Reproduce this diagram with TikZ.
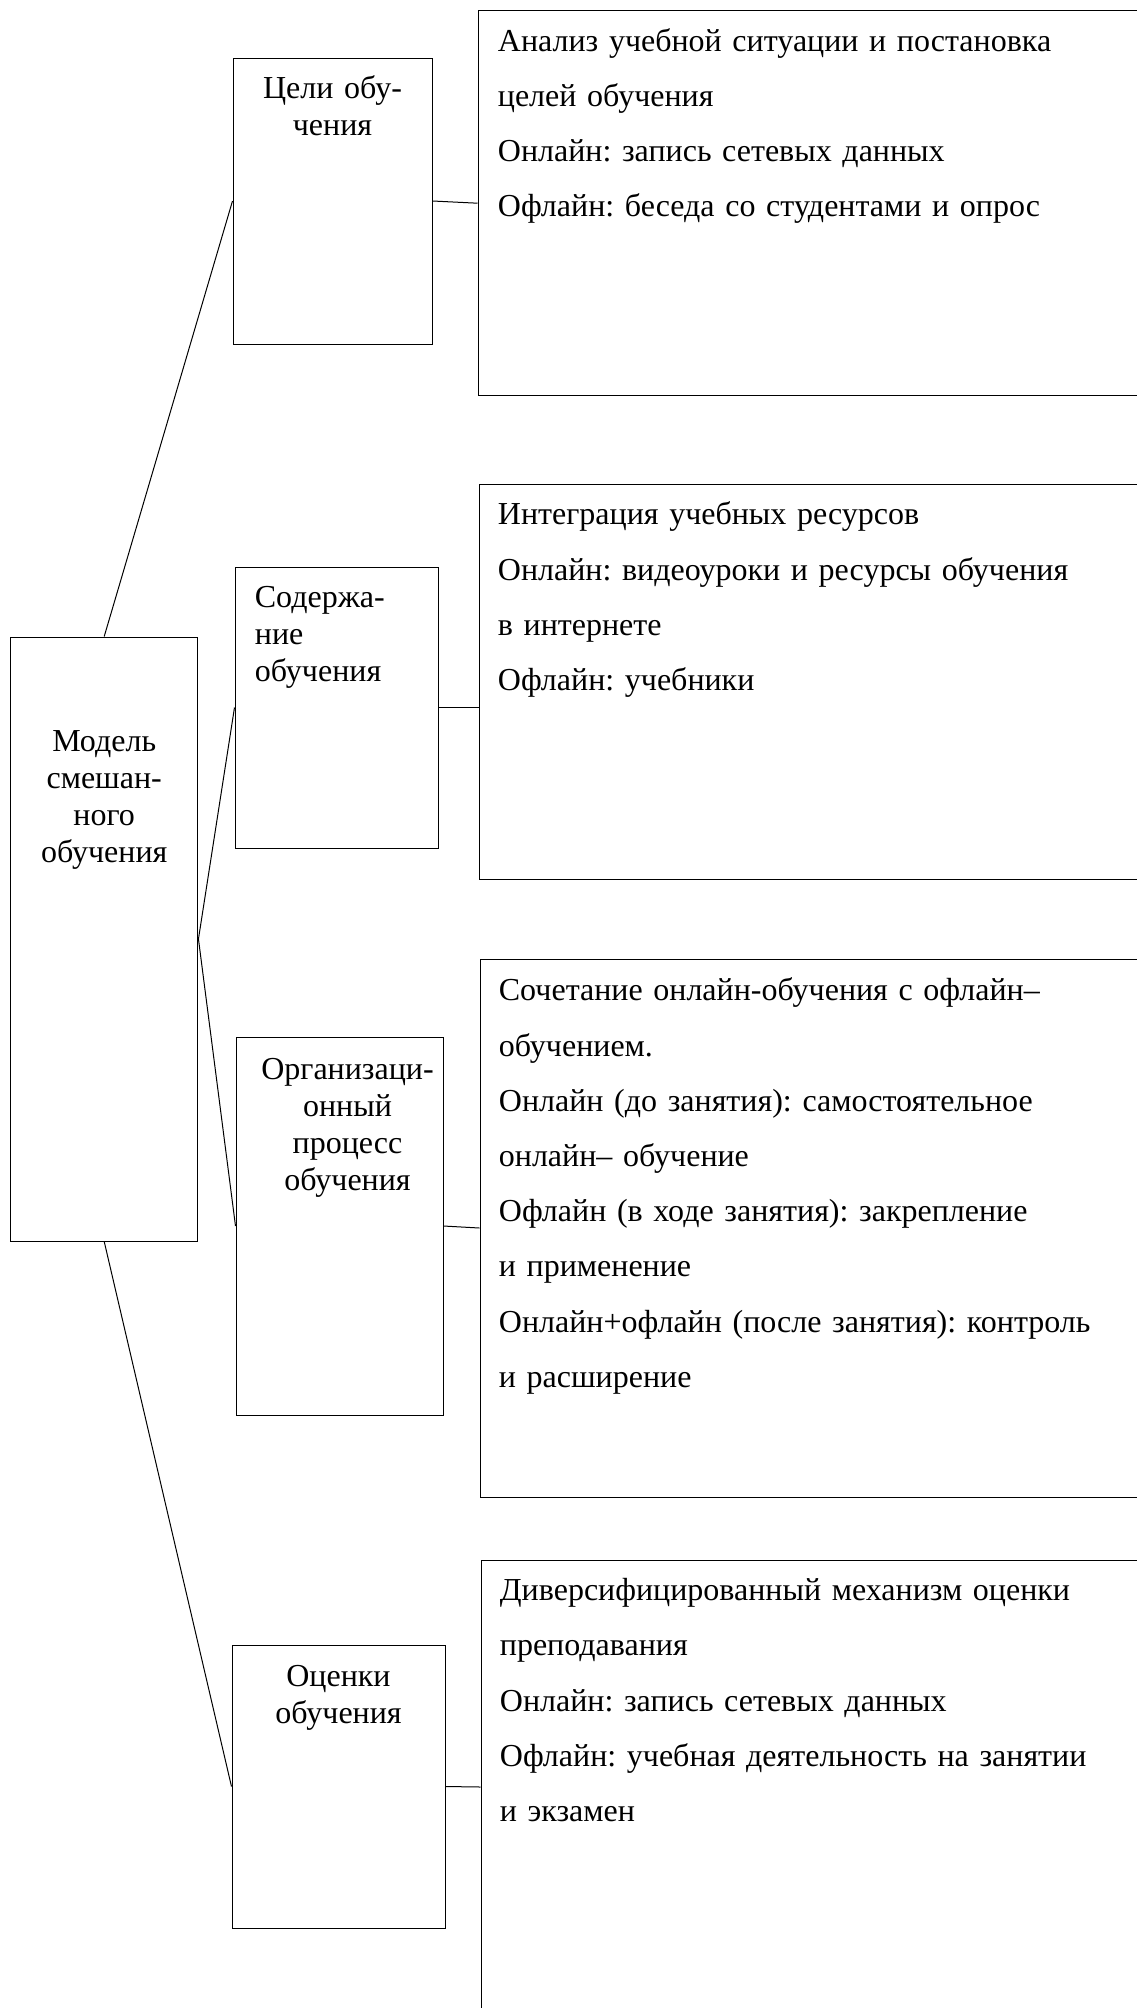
\documentclass[tikz,border=0pt]{standalone}
\usepackage{fontspec}
\setmainfont{Liberation Serif}
\frenchspacing
\tikzstyle{box} = [rectangle, draw=black, line width=0.5pt, inner sep=0pt]
\tikzstyle{head} = [inner sep=0pt, text width=95pt, align=center, anchor=base,
                    font=\fontsize{16pt}{18.5pt}\selectfont]
\tikzstyle{body} = [inner sep=0pt, text width=330pt, align=left, anchor=base west,
                    font=\fontsize{16pt}{27.6pt}\selectfont]
\tikzstyle{link} = [line width=0.5pt]

\begin{document}
\begin{tikzpicture}
  \useasboundingbox (0,0) rectangle (568pt,-1004pt);

  % model
  \node (m) [box, minimum width=93.75pt, minimum height=302pt] at (52.1pt,-469.5pt) {};
  \node (mtext) [head, text width=90pt] at ([yshift=-57.3pt]m.north)
    {Модель\\смешан-\\ного\\обучения};

  % components
  \node (g1) [box, minimum width=99.5pt, minimum height=143pt] at (166.25pt,-100.5pt) {};
  \node (g2) [box, minimum width=101.5pt, minimum height=140.5pt] at (168.25pt,-353.75pt) {};
  \node (g3) [box, minimum width=103.5pt, minimum height=189pt] at (169.75pt,-613pt) {};
  \node (g4) [box, minimum width=106.5pt, minimum height=141.5pt] at (169.25pt,-893.25pt) {};

  \node (g1text) [head] at ([yshift=-20.4pt]g1.north) {Цели обу-\\чения};
  \node (g2text) [head, align=left, anchor=base west] at ([shift={(10pt,-20.6pt)}]g2.north west)
    {Содержа-\\ние\\обучения};
  \node (g3text) [head] at ([shift={(4pt,-21.6pt)}]g3.north)
    {Организаци-\\онный\\процесс\\обучения};
  \node (g4text) [head] at ([yshift=-21pt]g4.north) {Оценки\\обучения};

  % details
  \node (t1) [box, minimum width=336pt, minimum height=192.75pt] at (407pt,-101.6pt) {};
  \node (t2) [box, minimum width=335.5pt, minimum height=197.5pt] at (407.25pt,-340.75pt) {};
  \node (t3) [box, minimum width=335pt, minimum height=269pt] at (407.5pt,-614pt) {};
  \node (t4) [box, minimum width=334.5pt, minimum height=227pt] at (407.75pt,-893.5pt) {};

  \node (t1text) [body] at ([shift={(10pt,-20.6pt)}]t1.north west)
    {Анализ учебной ситуации и постановка\\
     целей обучения\\
     Онлайн: запись сетевых данных\\
     Офлайн: беседа со студентами и опрос};
  \node (t2text) [body] at ([shift={(9.5pt,-20.7pt)}]t2.north west)
    {Интеграция учебных ресурсов\\
     Онлайн: видеоуроки и ресурсы обучения\\
     в интернете\\
     Офлайн: учебники};
  \node (t3text) [body] at ([shift={(9.5pt,-21.2pt)}]t3.north west)
    {Сочетание онлайн-обучения с офлайн–\\
     обучением.\\
     Онлайн (до занятия): самостоятельное\\
     онлайн– обучение\\
     Офлайн (в ходе занятия): закрепление\\
     и применение\\
     Онлайн+офлайн (после занятия): контроль\\
     и расширение};
  \node (t4text) [body] at ([shift={(9.5pt,-20.6pt)}]t4.north west)
    {Диверсифицированный механизм оценки\\
     преподавания\\
     Онлайн: запись сетевых данных\\
     Офлайн: учебная деятельность на занятии\\
     и экзамен};

  % links
  \draw [link] (m.north) -- (g1.west);
  \draw [link] (m.east) -- (g2.west);
  \draw [link] (m.east) -- (g3.west);
  \draw [link] (m.south) -- (g4.west);
  \draw [link] (g1.east) -- (t1.west);
  \draw [link] (g2.east) -- (g2.east -| t2.west);
  \draw [link] (g3.east) -- (t3.west);
  \draw [link] (g4.east) -- (t4.west);
\end{tikzpicture}
\end{document}
